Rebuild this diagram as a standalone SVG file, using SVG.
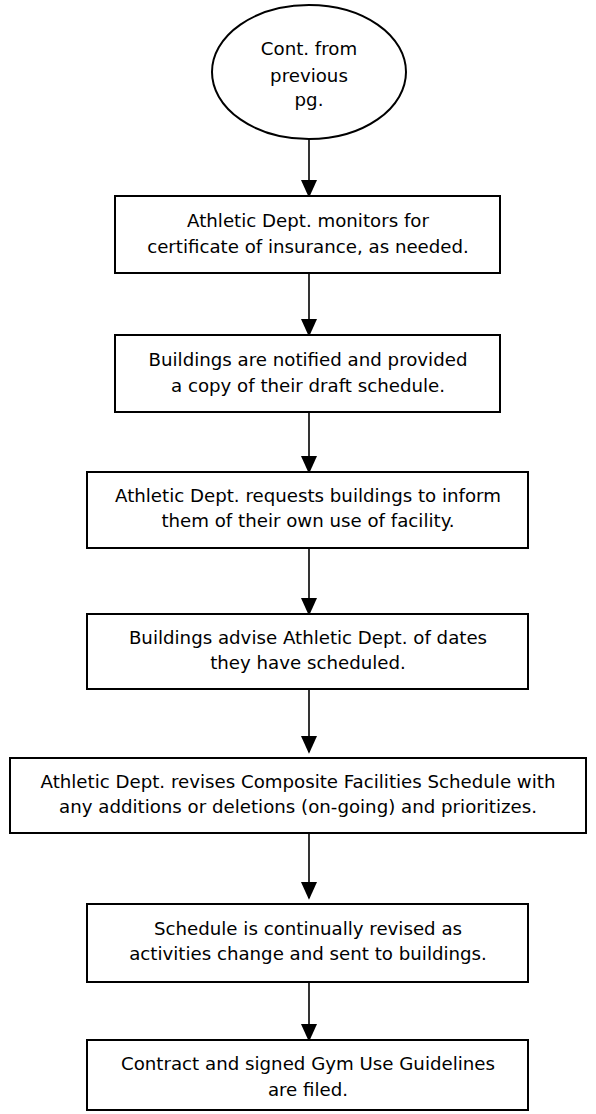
<svg xmlns="http://www.w3.org/2000/svg" width="596" height="1114" viewBox="0 0 596 1114">
<style>
.n{fill:#fff;stroke:#000;stroke-width:2}
.t{font-family:"DejaVu Sans",Verdana,sans-serif;font-size:18.2px;fill:#000;text-anchor:middle}
.c line{stroke:#000;stroke-width:1.6}
</style>
<defs>
<marker id="ah" markerWidth="18" markerHeight="20" refX="18" refY="9" orient="auto" markerUnits="userSpaceOnUse" viewBox="0 0 20 18">
<path d="M0,0 L20,9 L0,18 Z" fill="#000"/>
</marker>
</defs>
<g class="c" id="connectors">
<line x1="309" y1="140" x2="309" y2="196" marker-end="url(#ah)"/>
<line x1="309" y1="273" x2="309" y2="335" marker-end="url(#ah)"/>
<line x1="309" y1="412" x2="309" y2="472" marker-end="url(#ah)"/>
<line x1="309" y1="548" x2="309" y2="614" marker-end="url(#ah)"/>
<line x1="309" y1="689" x2="309" y2="752" marker-end="url(#ah)"/>
<line x1="309" y1="833" x2="309" y2="898" marker-end="url(#ah)"/>
<line x1="309" y1="982" x2="309" y2="1040" marker-end="url(#ah)"/>
</g>
<g id="start">
<ellipse class="n" cx="309" cy="72" rx="97" ry="67"/>
<text class="t" x="309" y="55">Cont. from</text>
<text class="t" x="309" y="82">previous</text>
<text class="t" x="309" y="106">pg.</text>
</g>
<g id="step1">
<rect class="n" x="115" y="196" width="385" height="77"/>
<text class="t" x="308" y="227">Athletic Dept. monitors for</text>
<text class="t" x="308" y="253">certificate of insurance, as needed.</text>
</g>
<g id="step2">
<rect class="n" x="115" y="335" width="385" height="77"/>
<text class="t" x="308" y="366">Buildings are notified and provided</text>
<text class="t" x="308" y="392">a copy of their draft schedule.</text>
</g>
<g id="step3">
<rect class="n" x="87" y="472" width="441" height="76"/>
<text class="t" x="308" y="502">Athletic Dept. requests buildings to inform</text>
<text class="t" x="308" y="527">them of their own use of facility.</text>
</g>
<g id="step4">
<rect class="n" x="87" y="614" width="441" height="75"/>
<text class="t" x="308" y="644">Buildings advise Athletic Dept. of dates</text>
<text class="t" x="308" y="669">they have scheduled.</text>
</g>
<g id="step5">
<rect class="n" x="10" y="758" width="576" height="75"/>
<text class="t" x="298" y="788">Athletic Dept. revises Composite Facilities Schedule with</text>
<text class="t" x="298" y="813">any additions or deletions (on-going) and prioritizes.</text>
</g>
<g id="step6">
<rect class="n" x="87" y="904" width="441" height="78"/>
<text class="t" x="308" y="935">Schedule is continually revised as</text>
<text class="t" x="308" y="960">activities change and sent to buildings.</text>
</g>
<g id="step7">
<rect class="n" x="87" y="1040" width="441" height="70"/>
<text class="t" x="308" y="1070">Contract and signed Gym Use Guidelines</text>
<text class="t" x="308" y="1096">are filed.</text>
</g>
</svg>
